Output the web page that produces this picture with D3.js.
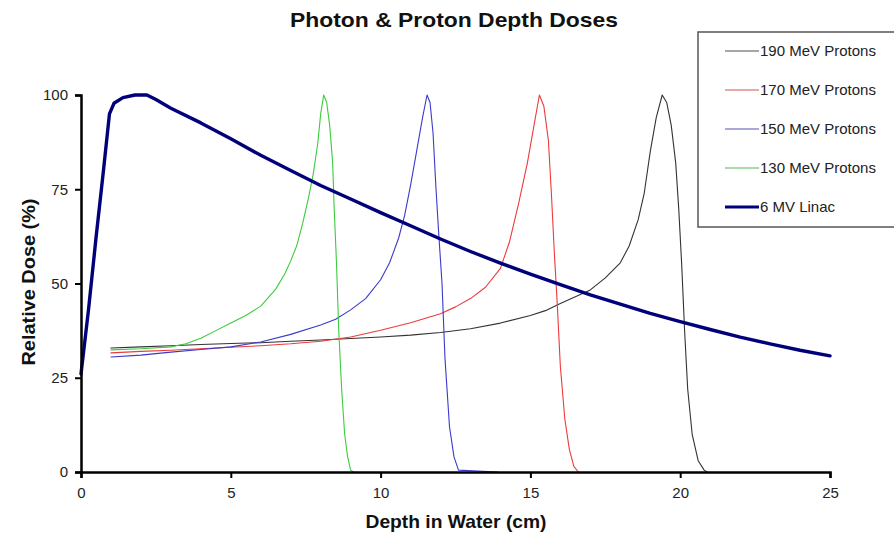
<!DOCTYPE html>
<html>
<head>
<meta charset="utf-8">
<script src="https://cdn.jsdelivr.net/npm/d3@7"></script>
<style>
  html, body { margin: 0; padding: 0; background: #fff; }
  svg { display: block; font-family: Arial, "Liberation Sans", sans-serif; }
</style>
</head>
<body>
<svg id="chart" width="894" height="536"></svg>
<script>
// Depth (cm) / relative dose (%) pairs for each beam
const linac6MV = [
  [0, 26], [0.25, 43], [0.5, 62], [0.75, 80], [0.95, 95], [1.1, 97.8], [1.4, 99.3],
  [1.8, 100], [2.2, 100], [2.5, 98.8], [3, 96.5], [4, 92.6], [5, 88.4], [6, 84],
  [7, 80], [8, 76], [9, 72.4], [10, 68.8], [11, 65.3], [12, 61.8], [13, 58.5],
  [14, 55.4], [15, 52.5], [16, 49.7], [17, 47], [18, 44.5], [19, 42.1], [20, 39.9],
  [21, 37.8], [22, 35.8], [23, 34], [24, 32.3], [25, 30.8]
];
const proton190 = [
  [1, 32.9], [2, 33.2], [3, 33.5], [4, 33.8], [5, 34.1], [6, 34.3], [7, 34.7], [8, 35],
  [9, 35.4], [10, 35.8], [11, 36.3], [12, 37], [13, 38], [14, 39.5], [15, 41.5],
  [15.5, 42.8], [16, 44.7], [16.5, 46.5], [17, 48.3], [17.5, 51.5], [18, 55.5],
  [18.3, 60], [18.6, 67], [18.8, 74], [19, 85], [19.2, 94], [19.4, 100], [19.55, 98],
  [19.7, 92], [19.85, 82], [19.95, 70], [20.05, 55], [20.15, 37], [20.25, 22],
  [20.4, 10], [20.6, 3], [20.8, 0.5], [20.9, 0]
];
const proton170 = [
  [1, 31.6], [2, 32], [3, 32.3], [4, 32.7], [5, 33.1], [6, 33.5], [7, 34], [8, 34.7],
  [9, 35.8], [10, 37.6], [11, 39.6], [12, 42], [12.5, 43.8], [13, 46], [13.5, 49],
  [14, 54], [14.3, 61], [14.6, 71], [14.9, 82], [15.1, 91], [15.3, 100], [15.45, 97],
  [15.6, 88], [15.7, 74], [15.8, 58], [15.9, 44], [16, 28], [16.15, 14], [16.3, 6],
  [16.45, 1.5], [16.6, 0]
];
const proton150 = [
  [1, 30.5], [2, 31], [3, 31.8], [4, 32.5], [5, 33.2], [6, 34.5], [7, 36.5], [8, 39],
  [8.5, 40.5], [9, 43], [9.5, 46], [10, 51], [10.3, 55.5], [10.6, 62], [10.8, 68],
  [11, 76], [11.2, 85], [11.4, 94], [11.55, 100], [11.65, 98], [11.75, 90], [11.85, 75],
  [11.95, 62], [12.05, 50], [12.15, 30], [12.3, 12], [12.45, 4], [12.6, 0.5], [13.9, 0]
];
const proton130 = [
  [1, 32.4], [2, 32.7], [3, 33.2], [3.5, 34], [4, 35.5], [4.5, 37.5], [5, 39.5],
  [5.5, 41.5], [6, 44], [6.5, 48.5], [6.8, 52.5], [7, 56], [7.2, 60], [7.4, 66],
  [7.6, 73], [7.75, 79], [7.9, 87], [8, 95], [8.1, 100], [8.2, 98], [8.3, 92],
  [8.4, 82], [8.45, 70], [8.53, 55], [8.6, 38], [8.7, 22], [8.8, 10], [8.9, 4],
  [9, 0.5], [9.1, 0]
];

const seriesNames = ["190 MeV Protons", "170 MeV Protons", "150 MeV Protons", "130 MeV Protons", "6 MV Linac"];
const seriesData = [proton190, proton170, proton150, proton130, linac6MV];
const seriesColors = ["#333333", "#ee3a3a", "#3a3acc", "#3ccc3c", "#00007a"];
const seriesWidths = [1.1, 1.1, 1.1, 1.1, 3.4];

const xTicks = [0, 5, 10, 15, 20, 25];
const yTicks = [0, 25, 50, 75, 100];

const svg = d3.select("#chart");
const x = d3.scaleLinear().domain([0, 25]).range([81, 830]);
const y = d3.scaleLinear().domain([0, 100]).range([472, 95]);

// Title
svg.append("text")
  .attr("x", 454).attr("y", 27)
  .attr("text-anchor", "middle")
  .attr("font-size", 21).attr("font-weight", "bold").attr("fill", "#111")
  .attr("textLength", 328).attr("lengthAdjust", "spacingAndGlyphs")
  .text("Photon & Proton Depth Doses");

// Curves
const line = d3.line().x(d => x(d[0])).y(d => y(d[1]));
svg.append("g").selectAll("path")
  .data(seriesData)
  .join("path")
  .attr("d", line)
  .attr("fill", "none")
  .attr("stroke", (d, i) => seriesColors[i])
  .attr("stroke-width", (d, i) => seriesWidths[i])
  .attr("stroke-linejoin", "round")
  .attr("stroke-linecap", "round");

// Axes
const xAxis = svg.append("g")
  .attr("transform", `translate(0,${y(0)})`)
  .call(d3.axisBottom(x).tickValues(xTicks).tickSize(6).tickPadding(9).tickFormat(d3.format("d")));
const yAxis = svg.append("g")
  .attr("transform", `translate(${x(0)},0)`)
  .call(d3.axisLeft(y).tickValues(yTicks).tickSize(6).tickPadding(7).tickFormat(d3.format("d")));
[xAxis, yAxis].forEach(g => {
  g.select(".domain").attr("stroke", "#000").attr("stroke-width", 2.5);
  g.selectAll(".tick line").attr("stroke", "#000").attr("stroke-width", 2);
  g.selectAll(".tick text").attr("font-size", 15).attr("fill", "#222")
    .attr("font-family", "Arial, 'Liberation Sans', sans-serif");
});

// Axis titles
svg.append("text")
  .attr("x", 456).attr("y", 528)
  .attr("text-anchor", "middle")
  .attr("font-size", 18.5).attr("font-weight", "bold").attr("fill", "#111")
  .attr("textLength", 181).attr("lengthAdjust", "spacingAndGlyphs")
  .text("Depth in Water (cm)");
svg.append("text")
  .attr("transform", "translate(35,282) rotate(-90)")
  .attr("text-anchor", "middle")
  .attr("font-size", 18.5).attr("font-weight", "bold").attr("fill", "#111")
  .attr("textLength", 167).attr("lengthAdjust", "spacingAndGlyphs")
  .text("Relative Dose (%)");

// Legend
const legend = svg.append("g");
legend.append("rect")
  .attr("x", 698).attr("y", 32).attr("width", 210).attr("height", 195)
  .attr("fill", "#fff").attr("stroke", "#555").attr("stroke-width", 1.5);
const items = legend.selectAll("g.item")
  .data(seriesNames)
  .join("g")
  .attr("class", "item")
  .attr("transform", (d, i) => `translate(0,${51 + i * 39})`);
items.append("line")
  .attr("x1", 725).attr("x2", 759)
  .attr("stroke", (d, i) => i === 4 ? seriesColors[i] : d3.interpolateRgb(seriesColors[i], "#888")(0.35))
  .attr("stroke-width", (d, i) => i === 4 ? 3.2 : 1.2);
items.append("text")
  .attr("x", 760).attr("y", 0).attr("dy", "0.35em")
  .attr("font-size", 15).attr("fill", "#222")
  .text(d => d);
</script>
</body>
</html>
